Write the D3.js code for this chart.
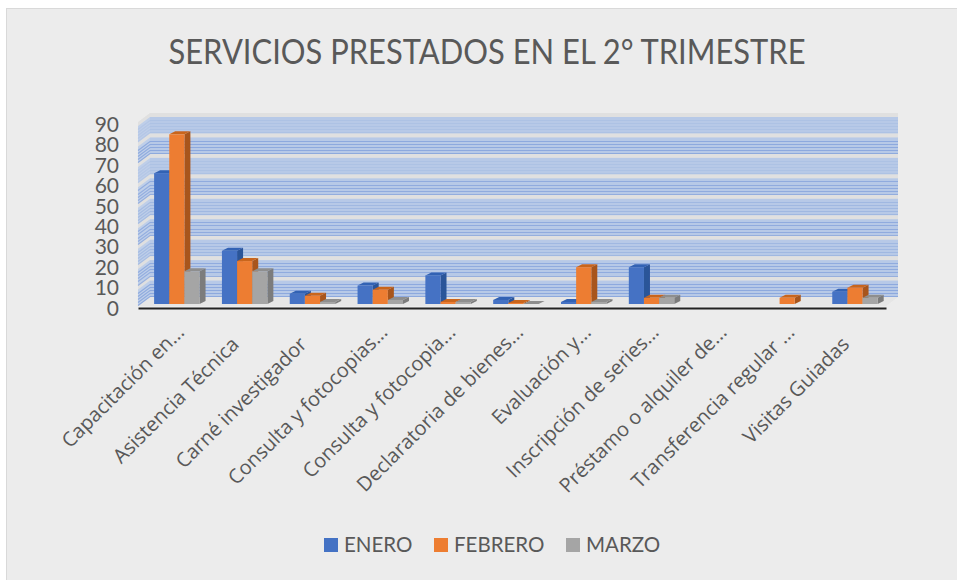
<!DOCTYPE html>
<html lang="es">
<head>
    <meta charset="UTF-8">
    <title>Servicios prestados en el 2° trimestre</title>
    <script src="https://d3js.org/d3.v7.min.js"></script>
    <style>
        html, body { margin: 0; padding: 0; background: #fff; }
        svg { display: block; }
        text { font-family: Lato, "Open Sans", sans-serif; fill: #595959; }
    </style>
</head>
<body>
    <svg width="957" height="580"></svg>

    <script>
        // Datos (null = sin barra)
        const categorias = [
            "Capacitación en...", "Asistencia Técnica", "Carné investigador",
            "Consulta y fotocopias...", "Consulta y fotocopia...", "Declaratoria de bienes...",
            "Evaluación y...", "Inscripción de series...", "Préstamo o alquiler de...",
            "Transferencia regular ...", "Visitas Guiadas"
        ];
        const enero   = [64, 26, 5, 9, 14, 2, 1, 18, null, null, 6];
        const febrero = [83, 21, 4, 7, 1, 0.5, 18, 3, null, 3, 8];
        const marzo   = [16, 16, 1, 2, 1, 0, 1, 3, null, null, 3];
        const nombres = ["ENERO", "FEBRERO", "MARZO"];
        const ticksY  = [0, 10, 20, 30, 40, 50, 60, 70, 80, 90];

        const colores = ["#4472c4", "#ed7d31", "#a5a5a5"];
        const lados   = ["#2c5499", "#a8551b", "#7c7c7c"];
        const techos  = ["#3362b4", "#c9651f", "#8e8e8e"];

        // Intensidad de las lineas en cada banda de la pared, de abajo arriba
        const fuerzaBanda = [0.65, 0.6, 0.35, 0.6, 0.35, 0.6, 0.15, 0.65, 0.15];

        const svg = d3.select("svg");

        // Profundidad del efecto 3D
        const dxBarra = 6, dyBarra = 3;
        const dxPared = 12, dyPared = 9;
        const subirFondo = 7;
        const huecoBanda = 4;

        const x0 = d3.scaleBand()
            .domain(categorias)
            .range([138, 886])
            .paddingInner(0.33)
            .paddingOuter(0.18)
            .align(0.66);

        const x1 = d3.scaleBand()
            .domain(nombres)
            .range([0, x0.bandwidth()]);

        const y = d3.scaleLinear()
            .domain([0, 90])
            .range([304, 120]);

        const yFondo = v => y(v) - subirFondo;

        // Panel de fondo
        svg.append("rect")
            .attr("x", 6.5).attr("y", 8.5)
            .attr("width", 960).attr("height", 580)
            .attr("fill", "#ececec")
            .attr("stroke", "#d9d9d9");

        svg.append("text")
            .attr("x", 487).attr("y", 64)
            .attr("text-anchor", "middle")
            .attr("textLength", 637)
            .attr("lengthAdjust", "spacingAndGlyphs")
            .style("font-size", "35px")
            .text("SERVICIOS PRESTADOS EN EL 2° TRIMESTRE");

        const defs = svg.append("defs");
        defs.append("filter").attr("id", "suave")
            .append("feGaussianBlur").attr("stdDeviation", 0.6);

        const pared = svg.append("g").attr("filter", "url(#suave)");
        const xIni = 138 + dxPared, xFin = 886 + dxPared;

        // Pared izquierda y suelo
        pared.append("polygon")
            .attr("points", [
                [138, yFondo(90) + dyPared], [xIni, yFondo(90)],
                [xIni, yFondo(0)], [138, yFondo(0) + dyPared]
            ].join(" "))
            .attr("fill", "#e0e0e0");

        pared.append("polygon")
            .attr("points", [
                [138, yFondo(0) + dyPared], [xIni, yFondo(0)],
                [xFin, yFondo(0)], [886, yFondo(0) + dyPared]
            ].join(" "))
            .attr("fill", "#e6e6e6");

        // Pared del fondo: gris debajo y bandas azules por cada intervalo
        pared.append("rect")
            .attr("x", xIni).attr("y", yFondo(90))
            .attr("width", xFin - xIni).attr("height", yFondo(0) - yFondo(90))
            .attr("fill", "#e0e0e0");

        const intervalos = ticksY.slice(0, -1);

        pared.selectAll(".banda")
            .data(intervalos)
            .join("rect")
            .attr("class", "banda")
            .attr("x", xIni)
            .attr("y", d => yFondo(d + 10) + huecoBanda)
            .attr("width", xFin - xIni)
            .attr("height", d => yFondo(d) - yFondo(d + 10) - huecoBanda)
            .attr("fill", "#b7c9e7");

        pared.selectAll(".bandaLado")
            .data(intervalos)
            .join("polygon")
            .attr("class", "bandaLado")
            .attr("points", d => [
                [138, yFondo(d + 10) + huecoBanda + dyPared], [xIni, yFondo(d + 10) + huecoBanda],
                [xIni, yFondo(d)], [138, yFondo(d) + dyPared]
            ].join(" "))
            .attr("fill", "#bfcfe9");

        // Lineas secundarias de la cuadricula, dentro de cada banda
        const pasosBanda = [0.5, 2, 3.5, 5, 6.5];
        const secundarias = intervalos.flatMap((base, i) =>
            pasosBanda.map(p => ({ v: base + p, fuerza: fuerzaBanda[i] })));

        pared.selectAll(".menor")
            .data(secundarias)
            .join("path")
            .attr("class", "menor")
            .attr("d", d => {
                const yy = Math.round(yFondo(d.v)) + 0.5;
                return `M138,${yy + dyPared}L${xIni},${yy}L${xFin},${yy}`;
            })
            .attr("fill", "none")
            .attr("stroke", "#7698d8")
            .attr("stroke-width", 1.2)
            .attr("stroke-opacity", d => d.fuerza);

        // Barras
        const series = [enero, febrero, marzo];
        const barras = svg.append("g").attr("filter", "url(#suave)");

        categorias.forEach((cat, i) => {
            series.forEach((valores, s) => {
                const v = valores[i];
                if (v === null) return;
                const g = barras.append("g");
                const izq = x0(cat) + x1(nombres[s]);
                const der = izq + x1.bandwidth();
                const arriba = y(v);
                const abajo = y(0);

                g.append("polygon")
                    .attr("points", [
                        [der, arriba], [der + dxBarra, arriba - dyBarra],
                        [der + dxBarra, abajo - dyBarra], [der, abajo]
                    ].join(" "))
                    .attr("fill", lados[s]);

                g.append("polygon")
                    .attr("points", [
                        [izq, arriba], [izq + dxBarra, arriba - dyBarra],
                        [der + dxBarra, arriba - dyBarra], [der, arriba]
                    ].join(" "))
                    .attr("fill", techos[s]);

                g.append("rect")
                    .attr("x", izq).attr("y", arriba)
                    .attr("width", x1.bandwidth())
                    .attr("height", abajo - arriba)
                    .attr("fill", colores[s]);
            });
        });

        // Ejes
        const ejeY = svg.append("g")
            .attr("transform", "translate(119,4.5)")
            .call(d3.axisLeft(y).tickValues(ticksY).tickSize(0).tickPadding(0));
        ejeY.select(".domain").remove();
        ejeY.selectAll("text")
            .style("font-size", "21px")
            .style("fill", "#595959");

        const ejeX = svg.append("g")
            .attr("transform", "translate(0,308)")
            .call(d3.axisBottom(x0).tickSize(0));
        ejeX.select(".domain")
            .attr("stroke", "#222")
            .attr("stroke-width", 2);
        // Las etiquetas cortadas con puntos quedan mas arriba que las completas
        ejeX.selectAll("text")
            .attr("transform", d => d.endsWith("...")
                ? "translate(4,21) rotate(-45)"
                : "translate(-9,33) rotate(-45)")
            .attr("dy", "0.32em")
            .attr("x", 0).attr("y", 0)
            .style("text-anchor", "end")
            .style("font-family", "'Open Sans', sans-serif")
            .style("font-size", "20px")
            .style("fill", "#595959");

        // Leyenda
        const legendaX = [324, 434, 566];

        const legenda = svg.selectAll(".legenda")
            .data(nombres)
            .join("g")
            .attr("class", "legenda")
            .attr("transform", (d, i) => `translate(${legendaX[i]},538)`);

        legenda.append("rect")
            .attr("width", 14).attr("height", 14)
            .attr("fill", (d, i) => colores[i]);

        legenda.append("text")
            .attr("x", 20).attr("y", 14)
            .style("font-size", "20.5px")
            .text(d => d);
    </script>
</body>
</html>
